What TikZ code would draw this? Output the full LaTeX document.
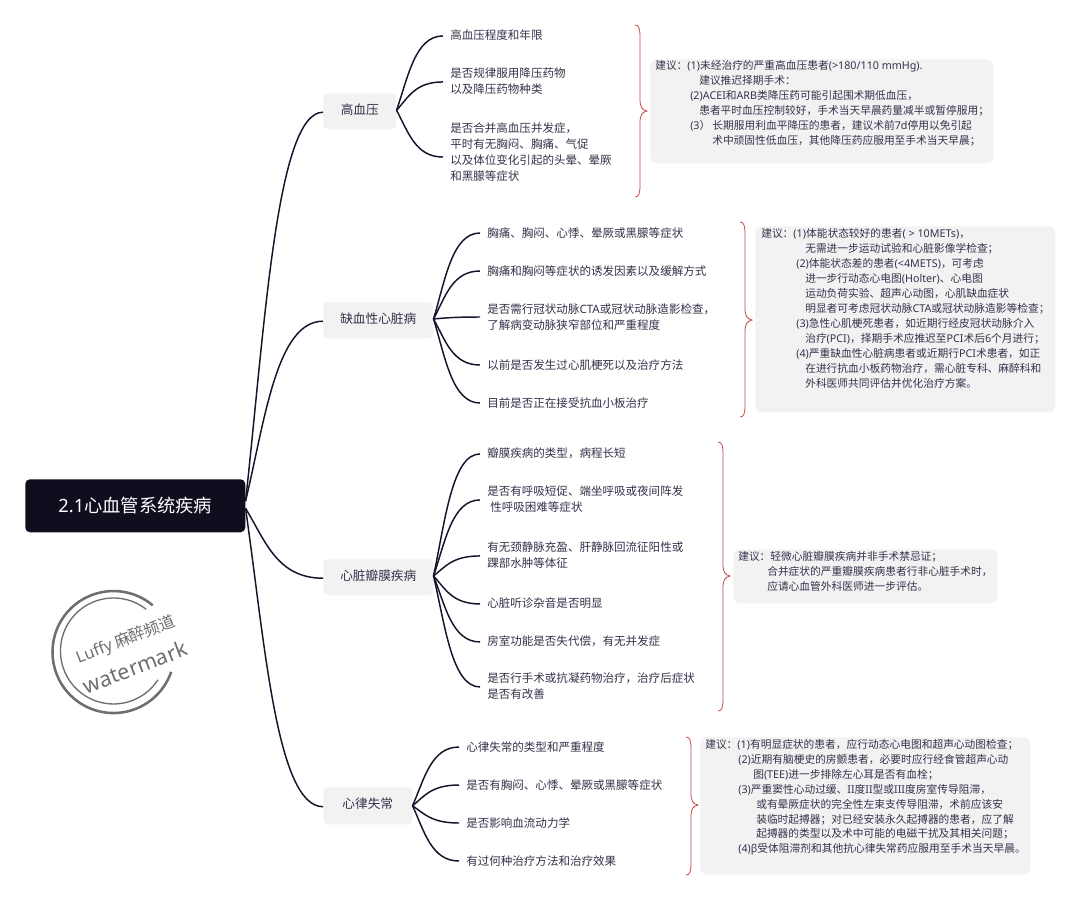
\documentclass[tikz,border=0pt]{standalone}
\usepackage{fontspec}
\setmainfont{Noto Sans CJK SC}
\newfontfamily\latf{Noto Sans}
\newcommand\lat[1]{{\latf #1}}
\newlength\pxu \setlength\pxu{0.75pt}
\newcommand\ii[1]{\hspace*{#1\pxu}}
\definecolor{ink}{HTML}{33334A}
\definecolor{wire}{HTML}{14142B}
\definecolor{rootfill}{HTML}{0E0E1F}
\definecolor{pale}{HTML}{F2F2F3}
\definecolor{bracec}{HTML}{C8474A}
\definecolor{stamp}{HTML}{6E6E6E}
\usetikzlibrary{calc}
\tikzset{
  x=0.75pt,y=-0.75pt,
  leaf/.style={anchor=west,inner xsep=5.25pt,inner ysep=0pt,align=left,text=ink,font=\fontsize{8.65}{12}\selectfont},
  topicbox/.style={fill=pale,rounded corners=3.5pt,text=ink,anchor=north west,inner sep=0pt,text height=7pt,text depth=2.5pt,font=\fontsize{9.5}{12}\selectfont},
  rootbox/.style={fill=rootfill,rounded corners=3.5pt,text=white,anchor=north west,inner sep=0pt,font=\fontsize{13.7}{16}\selectfont},
  panel/.style={fill=pale,rounded corners=5pt,anchor=north west,inner sep=0pt},
  note/.style={anchor=north west,inner sep=0pt,align=left,text=ink,font=\fontsize{8.05}{11.2}\selectfont},
  wirepath/.style={draw=wire,line width=1.1pt},
  bracepath/.style={draw=bracec,line width=0.6pt},
  stamptext/.style={text=stamp,inner sep=0pt}
}
\newcommand\link[2]{\draw[wirepath] let \p1=(#1),\p2=(#2) in (\p1) .. controls (\x1+.25*\x2-.25*\x1,\y1+.45*\y2-.45*\y1) and (\x1+.4*\x2-.4*\x1,\y2) .. (\p2);}
\newcommand\curlyb[4]{\draw[bracepath] (#1,#2) .. controls (#1+4,#2) and (#1+5,#2+4) .. (#1+5,#2+12) -- (#1+5,#3-12) .. controls (#1+5,#3-4) and (#1+7,#3-1) .. (#1+12,#3) .. controls (#1+7,#3+1) and (#1+5,#3+4) .. (#1+5,#3+12) -- (#1+5,#4-12) .. controls (#1+5,#4-4) and (#1+4,#4) .. (#1,#4);}
\begin{document}
\begin{tikzpicture}
\useasboundingbox (0,0) rectangle (1080,900);
\fill[white] (0,0) rectangle (1080,900);
% root and topics
\node[rootbox,minimum width=220\pxu,minimum height=53\pxu] (root) at (25,479) {\lat{2.1}心血管系统疾病};
\node[topicbox,minimum width=73\pxu,minimum height=36\pxu] (t1) at (323,93) {高血压};
\node[topicbox,minimum width=110\pxu,minimum height=36\pxu] (t2) at (323,302) {缺血性心脏病};
\node[topicbox,minimum width=110\pxu,minimum height=36\pxu] (t3) at (323,559) {心脏瓣膜疾病};
\node[topicbox,minimum width=89\pxu,minimum height=37\pxu] (t4) at (323,787) {心律失常};
% leaves
\node[leaf] (a1) at (443,35) {高血压程度和年限};
\node[leaf] (a2) at (443,81) {是否规律服用降压药物\\以及降压药物种类};
\node[leaf] (a3) at (443,152.5) {是否合并高血压并发症，\\平时有无胸闷、胸痛、气促\\以及体位变化引起的头晕、晕厥\\和黑朦等症状};
\node[leaf] (b1) at (480,233) {胸痛、胸闷、心悸、晕厥或黑朦等症状};
\node[leaf] (b2) at (480,271) {胸痛和胸闷等症状的诱发因素以及缓解方式};
\node[leaf] (b3) at (480,317) {是否需行冠状动脉\lat{CTA}或冠状动脉造影检查，\\了解病变动脉狭窄部位和严重程度};
\node[leaf] (b4) at (480,365) {以前是否发生过心肌梗死以及治疗方法};
\node[leaf] (b5) at (480,403) {目前是否正在接受抗血小板治疗};
\node[leaf] (c1) at (480,453) {瓣膜疾病的类型，病程长短};
\node[leaf] (c2) at (480,499) {是否有呼吸短促、端坐呼吸或夜间阵发\\\ii{3}性呼吸困难等症状};
\node[leaf] (c3) at (480,555) {有无颈静脉充盈、肝静脉回流征阳性或\\踝部水肿等体征};
\node[leaf] (c4) at (480,603) {心脏听诊杂音是否明显};
\node[leaf] (c5) at (480,641) {房室功能是否失代偿，有无并发症};
\node[leaf] (c6) at (480,686) {是否行手术或抗凝药物治疗，治疗后症状\\是否有改善};
\node[leaf] (d1) at (459,747) {心律失常的类型和严重程度};
\node[leaf] (d2) at (459,785) {是否有胸闷、心悸、晕厥或黑朦等症状};
\node[leaf] (d3) at (459,823) {是否影响血流动力学};
\node[leaf] (d4) at (459,861) {有过何种治疗方法和治疗效果};
% connectors
\foreach \t in {t1,t2}{\link{[yshift=3.4pt]root.east}{[yshift=-.7pt]\t.west}}
\foreach \t in {t3,t4}{\link{[yshift=-1.9pt]root.east}{[yshift=-.7pt]\t.west}}
\foreach \l in {a1,a2}{\link{[yshift=.7pt]t1.east}{[yshift=-.7pt]\l.west}}
\link{[yshift=.7pt]t1.east}{[yshift=-3.4pt]a3.west}
\foreach \l in {b1,b2,b3,b4,b5}{\link{[yshift=1pt]t2.east}{\l.west}}
\foreach \l in {c1,c2,c3,c4,c5,c6}{\link{[yshift=1pt]t3.east}{[yshift=-.7pt]\l.west}}
\foreach \l in {d1,d2,d3,d4}{\link{t4.east}{\l.west}}
% braces
\curlyb{635}{25}{111}{197}
\curlyb{740}{222}{320}{417}
\curlyb{718}{442}{576}{711}
\curlyb{686}{737}{805}{875}
% panels
\node[panel,minimum width=343\pxu,minimum height=104\pxu] (p1) at (650,59) {};
\node[note] (n1) at (655,60.5) {建议：\lat{(1)}未经治疗的严重高血压患者\lat{(>180/110 mmHg).}\\
\ii{44}建议推迟择期手术：\\
\ii{35}\lat{(2)ACEI}和\lat{ARB}类降压药可能引起围术期低血压，\\
\ii{44}患者平时血压控制较好，手术当天早晨药量减半或暂停服用；\\
\ii{35}\lat{(3}）\ii{2}长期服用利血平降压的患者，建议术前\lat{7d}停用以免引起\\
\ii{57}术中顽固性低血压，其他降压药应服用至手术当天早晨；};
\node[panel,minimum width=300\pxu,minimum height=186\pxu] (p2) at (755,226) {};
\node[note] (n2) at (761,228.5) {建议：\lat{(1)}体能状态较好的患者\lat{( > 10METs)}，\\
\ii{44}无需进一步运动试验和心脏影像学检查；\\
\ii{35}\lat{(2)}体能状态差的患者\lat{(<4METS)}，可考虑\\
\ii{44}进一步行动态心电图\lat{(Holter)}、心电图\\
\ii{44}运动负荷实验、超声心动图，心肌缺血症状\\
\ii{44}明显者可考虑冠状动脉\lat{CTA}或冠状动脉造影等检查；\\
\ii{35}\lat{(3)}急性心肌梗死患者，如近期行经皮冠状动脉介入\\
\ii{44}治疗\lat{(PCI)}，择期手术应推迟至\lat{PCI}术后\lat{6}个月进行；\\
\ii{35}\lat{(4)}严重缺血性心脏病患者或近期行\lat{PCI}术患者，如正\\
\ii{44}在进行抗血小板药物治疗，需心脏专科、麻醉科和\\
\ii{44}外科医师共同评估并优化治疗方案。};
\node[panel,minimum width=264\pxu,minimum height=54\pxu] (p3) at (733,549) {};
\node[note] (n3) at (738,551) {建议：轻微心脏瓣膜疾病并非手术禁忌证；\\
\ii{29}合并症状的严重瓣膜疾病患者行非心脏手术时，\\
\ii{29}应请心血管外科医师进一步评估。};
\node[panel,minimum width=330\pxu,minimum height=137\pxu] (p4) at (700,737) {};
\node[note] (n4) at (705,739) {建议：\lat{(1)}有明显症状的患者，应行动态心电图和超声心动图检查；\\
\ii{33}\lat{(2)}近期有脑梗史的房颤患者，必要时应行经食管超声心动\\
\ii{48}图\lat{(TEE)}进一步排除左心耳是否有血栓；\\
\ii{33}\lat{(3)}严重窦性心动过缓、\lat{II}度\lat{II}型或\lat{III}度房室传导阻滞，\\
\ii{51}或有晕厥症状的完全性左束支传导阻滞，术前应该安\\
\ii{51}装临时起搏器；对已经安装永久起搏器的患者，应了解\\
\ii{51}起搏器的类型以及术中可能的电磁干扰及其相关问题；\\
\ii{33}\lat{(4)β}受体阻滞剂和其他抗心律失常药应服用至手术当天早晨。};
% watermark: outer ring and inner ring
\draw[stamp,line width=1.9pt] (152.7,605.3) arc[start angle=-50,end angle=-341,radius=61];
\draw[stamp,line width=1pt] (146.1,609.2) arc[start angle=-52,end angle=-327,radius=53];
\node[stamptext,rotate=21,font=\fontsize{12}{14}\selectfont] (w1) at (126,640) {\lat{Luffy} 麻醉频道};
\node[stamptext,rotate=21,font=\latf\fontsize{16}{18}\selectfont] (w2) at (135,667) {watermark};
\end{tikzpicture}
\end{document}
